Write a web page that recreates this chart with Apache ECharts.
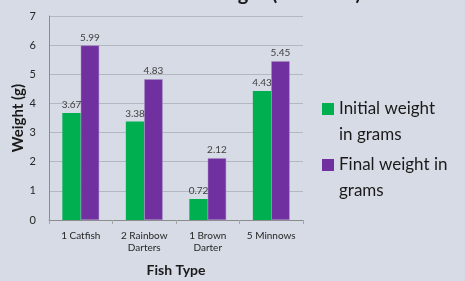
<!DOCTYPE html>
<html>
<head>
<meta charset="utf-8">
<script src="https://cdn.jsdelivr.net/npm/echarts@6/dist/echarts.min.js"></script>
<style>
  html, body { margin: 0; padding: 0; background: #d6dbe5; }
  #chart { width: 465px; height: 281px; }
</style>
</head>
<body>
<div id="chart"></div>
<script>
// fish types and weights (grams)
const categories = ['1 Catfish', '2 Rainbow\nDarters', '1 Brown\nDarter', '5 Minnows']
const initialWeight = [3.67, 3.38, 0.72, 4.43]
const finalWeight = [5.99, 4.83, 2.12, 5.45]
const seriesNames = ['Initial weight in grams', 'Final weight in grams']
const legendLabels = ['Initial weight\nin grams', 'Final weight in\ngrams']

const FONT = 'Lato, "Open Sans", sans-serif'

const chart = echarts.init(document.getElementById('chart'))

const barLabel = {
  show: true,
  position: 'top',
  distance: 3,
  fontFamily: FONT,
  fontSize: 10,
  color: '#404040'
}

// square sitting at the top of a tall icon box, so it lines up with the first text line
const squareIcon = 'path://M0,0h12v12h-12z M0,38h0.01v0.01h-0.01z'

chart.setOption({
  backgroundColor: '#d6dbe5',
  animation: false,
  title: {
    text: 'Fish Weight (in Grams)',
    left: 156,
    top: -21,
    textStyle: { fontFamily: FONT, fontSize: 20, fontWeight: 'bold', color: '#1a1a1a' }
  },
  legend: {
    orient: 'vertical',
    left: 317,
    top: 91,
    itemWidth: 12,
    itemHeight: 38,
    itemGap: 4,
    icon: squareIcon,
    itemStyle: { borderWidth: 0 },
    formatter: name => legendLabels[seriesNames.indexOf(name)],
    textStyle: {
      fontFamily: FONT,
      fontSize: 17,
      lineHeight: 26,
      color: '#1a1a1a'
    }
  },
  grid: { left: 49, right: 162, top: 16, bottom: 61, outerBoundsMode: 'none' },
  xAxis: {
    type: 'category',
    data: categories,
    name: 'Fish Type',
    nameLocation: 'middle',
    nameGap: 43,
    nameMoveOverlap: false,
    nameTextStyle: { fontFamily: FONT, fontSize: 14, fontWeight: 'bold', color: '#1a1a1a' },
    axisLine: { lineStyle: { color: '#8c8c8c' } },
    axisTick: { show: true, length: 4, lineStyle: { color: '#a6a6a6' } },
    axisLabel: { interval: 0, fontFamily: FONT, fontSize: 10, lineHeight: 12, color: '#262626', margin: 10 }
  },
  yAxis: {
    type: 'value',
    min: 0,
    max: 7,
    interval: 1,
    name: 'Weight (g)',
    nameLocation: 'middle',
    nameGap: 23,
    nameMoveOverlap: false,
    nameTextStyle: { fontFamily: FONT, fontSize: 15, fontWeight: 'bold', color: '#1a1a1a' },
    axisLine: { show: true, lineStyle: { color: '#8c8c8c' } },
    axisTick: { show: false },
    axisLabel: { fontFamily: FONT, fontSize: 11, color: '#262626', margin: 13 },
    splitLine: { lineStyle: { color: '#b3b7bf' } }
  },
  series: [
    {
      name: seriesNames[0],
      type: 'bar',
      data: initialWeight,
      barGap: '0%',
      barCategoryGap: '42%',
      itemStyle: { color: '#00b050' },
      label: barLabel
    },
    {
      name: seriesNames[1],
      type: 'bar',
      data: finalWeight,
      itemStyle: { color: '#7030a0', borderColor: '#a98fc4', borderWidth: 0.5 },
      label: barLabel
    }
  ]
})
</script>
</body>
</html>
